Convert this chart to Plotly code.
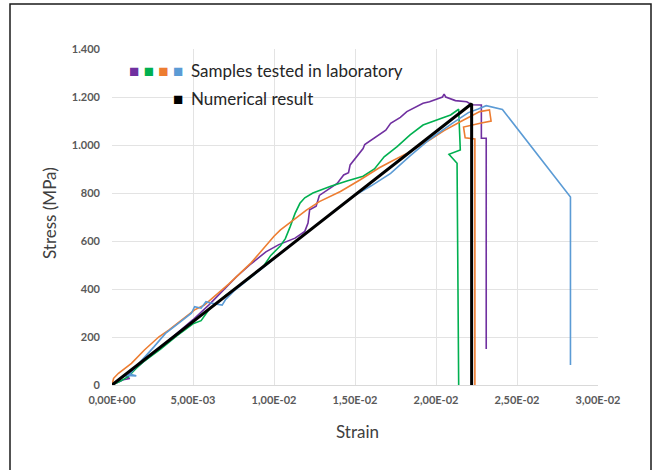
import plotly.graph_objects as go

# ---- data ----
purple_strain = [0, 0.0004, 0.0007, 0.0011, 0.0009, 0.0013, 0.002, 0.003, 0.004, 0.005, 0.006, 0.007, 0.0077,
                 0.0085, 0.0095, 0.0103, 0.0113, 0.0119, 0.0121, 0.0122, 0.0126, 0.0128, 0.0133, 0.0139, 0.0143,
                 0.0146, 0.0147, 0.0151, 0.0155, 0.0156, 0.0163, 0.0169, 0.0172, 0.0178, 0.0182, 0.0188, 0.0192,
                 0.0196, 0.0204, 0.0205, 0.0206, 0.0212, 0.0219, 0.0222, 0.0228, 0.0228, 0.0231, 0.0231]
purple_stress = [0, 12, 22, 27, 33, 60, 100, 155, 212, 272, 335, 405, 452,
                 500, 555, 585, 612, 640, 675, 730, 745, 790, 813, 840, 875,
                 885, 917, 951, 985, 1002, 1035, 1062, 1090, 1115, 1139, 1160, 1174,
                 1180, 1200, 1212, 1200, 1185, 1180, 1168, 1167, 1028, 1028, 150]

green_strain = [0, 0.0005, 0.001, 0.0015, 0.002, 0.003, 0.004, 0.005, 0.0055, 0.006, 0.007, 0.0077, 0.0085,
                0.0093, 0.0098, 0.0104, 0.0107, 0.011, 0.0113, 0.0116, 0.0119, 0.0124, 0.0135, 0.0145, 0.0155,
                0.0162, 0.0168, 0.0176, 0.0184, 0.0192, 0.0196, 0.0203, 0.0209, 0.0214, 0.0215, 0.0208, 0.0213,
                0.0214]
green_stress = [0, 15, 35, 70, 100, 150, 205, 255, 268, 315, 372, 405, 445,
                490, 540, 580, 610, 660, 715, 757, 780, 800, 828, 850, 870,
                900, 951, 993, 1042, 1083, 1094, 1110, 1125, 1149, 979, 961, 924,
                0]

orange_strain = [0, 0.0001, 0.0004, 0.0012, 0.002, 0.0029, 0.0035, 0.0043, 0.0051, 0.0057, 0.0063, 0.0072,
                 0.0079, 0.0086, 0.0091, 0.0096, 0.0100, 0.0104, 0.0112, 0.012, 0.0128, 0.0141, 0.0153, 0.0165,
                 0.0172, 0.0182, 0.0196, 0.0205, 0.0215, 0.0221, 0.0227, 0.0233, 0.0234, 0.0228, 0.0217, 0.0218,
                 0.0224, 0.0224]
orange_stress = [0, 28, 49, 90, 146, 201, 229, 271, 313, 333, 368, 420,
                 465, 510, 549, 590, 620, 646, 688, 729, 764, 806, 854, 905,
                 930, 965, 1021, 1060, 1097, 1118, 1139, 1146, 1100, 1092, 1075, 1030,
                 1025, 0]

blue_strain = [0, 0.0006, 0.0009, 0.0015, 0.0011, 0.0016, 0.0026, 0.0033, 0.0041, 0.0049, 0.0051, 0.0055,
               0.0058, 0.0062, 0.0068, 0.0070, 0.0075, 0.0085, 0.0095, 0.0105, 0.0115, 0.0125, 0.0135, 0.0145,
               0.0151, 0.016, 0.0172, 0.0184, 0.0196, 0.021, 0.022, 0.0226, 0.0231, 0.0241, 0.0283, 0.0283]
blue_stress = [0, 30, 40, 38, 45, 85, 160, 215, 257, 299, 326, 320,
               347, 340, 333, 355, 390, 445, 500, 555, 607, 660, 712, 765,
               795, 830, 882, 955, 1023, 1090, 1135, 1150, 1164, 1148, 783, 83]

numerical_strain = [0, 0.0222, 0.0222]
numerical_stress = [0, 1172, 0]

x_tickvals = [0, 0.005, 0.01, 0.015, 0.02, 0.025, 0.03]
x_ticktext = ["0,00E+00", "5,00E-03", "1,00E-02", "1,50E-02", "2,00E-02", "2,50E-02", "3,00E-02"]
y_tickvals = [0, 200, 400, 600, 800, 1000, 1200, 1400]
y_ticktext = ["0", "200", "400", "600", "800", "1.000", "1.200", "1.400"]

series = [
    ("Purple sample", purple_strain, purple_stress, "#7030A0"),
    ("Green sample", green_strain, green_stress, "#00B050"),
    ("Orange sample", orange_strain, orange_stress, "#ED7D31"),
    ("Blue sample", blue_strain, blue_stress, "#5B9BD5"),
]

fig = go.Figure()
for name, xs, ys, col in series:
    fig.add_trace(go.Scatter(x=xs, y=ys, mode="lines", name=name,
                             line=dict(color=col, width=1.6), showlegend=False))
fig.add_trace(go.Scatter(x=numerical_strain, y=numerical_stress, mode="lines", name="Numerical result",
                         line=dict(color="#000000", width=3), showlegend=False))

FONT = "Lato"
fig.update_layout(
    width=654, height=470,
    margin=dict(l=112, r=56, t=49, b=85),
    paper_bgcolor="white", plot_bgcolor="white",
    font=dict(family=FONT, color="#595959"),
    showlegend=False,
)
fig.update_xaxes(range=[0, 0.03], tickvals=x_tickvals, ticktext=x_ticktext,
                 showgrid=True, gridcolor="#E3E3E3", gridwidth=1, zeroline=False,
                 showline=True, linecolor="#D9D9D9", linewidth=1, ticks="", ticklabelstandoff=5,
                 tickfont=dict(family=FONT, size=11, color="#595959", weight="bold"))
fig.update_yaxes(range=[0, 1400], tickvals=y_tickvals, ticktext=y_ticktext,
                 showgrid=True, gridcolor="#E3E3E3", gridwidth=1, zeroline=False,
                 showline=False, ticks="", ticklabelstandoff=11,
                 tickfont=dict(family=FONT, size=11, color="#595959", weight="bold"))

# axis titles
fig.add_annotation(text="Stress (MPa)", xref="paper", yref="paper", x=(49 - 112) / 486, y=(385 - 213) / 336,
                   textangle=-90, showarrow=False, font=dict(family=FONT, size=17, color="#404040"),
                   xanchor="center", yanchor="middle")
fig.add_annotation(text="Strain", xref="paper", yref="paper", x=(357 - 112) / 486, y=(385 - 431) / 336,
                   showarrow=False, font=dict(family=FONT, size=17, color="#404040"),
                   xanchor="center", yanchor="middle")

# custom legend
sq = "\u25A0"
leg1 = " ".join(f"<span style='color:{c}'>{sq}</span>" for _, _, _, c in series)
fig.add_annotation(text=leg1, xref="paper", yref="paper", x=(127 - 112) / 486, y=(385 - 70) / 336,
                   xanchor="left", yanchor="middle", showarrow=False,
                   font=dict(family=FONT, size=17, color="#262626"))
fig.add_annotation(text="Samples tested in laboratory", xref="paper", yref="paper",
                   x=(189 - 112) / 486, y=(385 - 70) / 336,
                   xanchor="left", yanchor="middle", showarrow=False,
                   font=dict(family=FONT, size=17, color="#262626"))
fig.add_annotation(text=sq, xref="paper", yref="paper", x=(171 - 112) / 486, y=(385 - 98) / 336,
                   xanchor="left", yanchor="middle", showarrow=False,
                   font=dict(family=FONT, size=17, color="#000000"))
fig.add_annotation(text="Numerical result", xref="paper", yref="paper",
                   x=(189 - 112) / 486, y=(385 - 98) / 336,
                   xanchor="left", yanchor="middle", showarrow=False,
                   font=dict(family=FONT, size=17, color="#262626"))

# outer frame
fig.add_shape(type="rect", xref="paper", yref="paper",
              x0=(10 - 112) / 486, x1=(651 - 112) / 486,
              y0=(385 - 480) / 336, y1=(385 - 4) / 336,
              line=dict(color="#1a1a1a", width=1.5), layer="below")

fig.write_html("out.html", config={"displayModeBar": False})

# remove the browser's default 8px body margin so the figure fills the window exactly
with open("out.html", "r", encoding="utf-8") as f:
    html = f.read()
html = html.replace("<head>", "<head><style>html,body{margin:0;padding:0;overflow:hidden;}</style>", 1)
with open("out.html", "w", encoding="utf-8") as f:
    f.write(html)
